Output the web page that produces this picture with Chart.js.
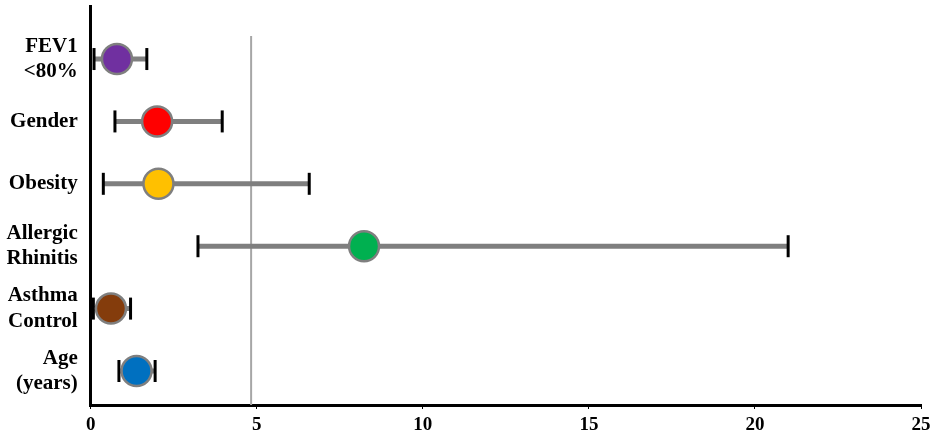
<!DOCTYPE html>
<html>
<head>
<meta charset="utf-8">
<script src="https://cdn.jsdelivr.net/npm/chart.js@4.4.1/dist/chart.umd.min.js"></script>
<style>
    html, body { margin: 0; padding: 0; background: #fff; }
    #chart { display: block; }
</style>
</head>
<body>
<canvas id="chart" width="935" height="440"></canvas>
<script>
// rows, top to bottom
var rowLabels = [['FEV1', '<80%'], 'Gender', 'Obesity', ['Allergic', 'Rhinitis'], ['Asthma', 'Control'], ['Age', '(years)']];
var estimates = [0.79, 2.0, 2.04, 8.23, 0.61, 1.38];
var lower = [0.1, 0.73, 0.38, 3.23, 0.08, 0.85];
var upper = [1.69, 3.96, 6.58, 21.0, 1.2, 1.94];
var dotColors = ['#7030a0', '#ff0000', '#ffc000', '#00b050', '#843c0c', '#0070c0'];
var xTicks = [0, 5, 10, 15, 20, 25];
var refValue = 4.83;

var serif = "'Liberation Serif', 'Times New Roman', serif";

var datasets = [];

// estimate circles (drawn on top)
datasets.push({
    type: 'scatter',
    order: 0,
    data: estimates.map(function(v, i) { return { x: v, y: i }; }),
    pointRadius: 15,
    pointHoverRadius: 15,
    backgroundColor: dotColors,
    borderColor: '#7f7f7f',
    borderWidth: 2.5,
    clip: false
});

// whisker caps
var caps = [];
lower.forEach(function(v, i) {
    caps.push({ x: v, y: i });
    caps.push({ x: upper[i], y: i });
});
datasets.push({
    type: 'scatter',
    order: 1,
    data: caps,
    pointStyle: 'line',
    rotation: 90,
    pointRadius: 11,
    pointHoverRadius: 11,
    borderColor: '#000',
    borderWidth: 3,
    clip: false
});

// whiskers
lower.forEach(function(v, i) {
    datasets.push({
        type: 'line',
        order: 2,
        data: [{ x: v, y: i }, { x: upper[i], y: i }],
        borderColor: '#7f7f7f',
        borderWidth: 5,
        pointRadius: 0,
        clip: false
    });
});

// reference line
datasets.push({
    type: 'line',
    order: 3,
    data: [{ x: refValue, y: -0.37 }, { x: refValue, y: 5.545 }],
    borderColor: '#a6a6a6',
    borderWidth: 2,
    pointRadius: 0
});

var ctx = document.getElementById('chart').getContext('2d');
new Chart(ctx, {
    type: 'scatter',
    data: { datasets: datasets },
    options: {
        responsive: false,
        animation: false,
        events: [],
        layout: { autoPadding: false, padding: { top: 6, right: 14, left: 2, bottom: 0 } },
        plugins: {
            legend: { display: false },
            tooltip: { enabled: false }
        },
        scales: {
            x: {
                type: 'linear',
                min: 0,
                max: 25,
                afterBuildTicks: function(scale) {
                    scale.ticks = xTicks.map(function(v) { return { value: v }; });
                },
                afterFit: function(scale) {
                    scale.height = 35;
                    scale.paddingLeft = 0;
                    scale.paddingRight = 0;
                },
                grid: {
                    drawOnChartArea: false,
                    color: '#000',
                    tickLength: 4,
                    tickWidth: 1
                },
                border: { color: '#000', width: 3 },
                ticks: {
                    color: '#000',
                    padding: 5,
                    maxRotation: 0,
                    font: { family: serif, size: 19, weight: 'bold' }
                }
            },
            y: {
                type: 'linear',
                reverse: true,
                min: -0.85,
                max: 5.545,
                afterBuildTicks: function(scale) {
                    scale.ticks = rowLabels.map(function(l, i) { return { value: i }; });
                },
                afterFit: function(scale) {
                    scale.width = 88.7;
                    scale.paddingTop = 0;
                    scale.paddingBottom = 0;
                },
                grid: { display: false, drawTicks: false },
                border: { color: '#000', width: 3 },
                ticks: {
                    color: '#000',
                    padding: 13,
                    autoSkip: false,
                    font: { family: serif, size: 21, weight: 'bold', lineHeight: 1.2 },
                    callback: function(value) { return rowLabels[value]; }
                }
            }
        }
    }
});
</script>
</body>
</html>
